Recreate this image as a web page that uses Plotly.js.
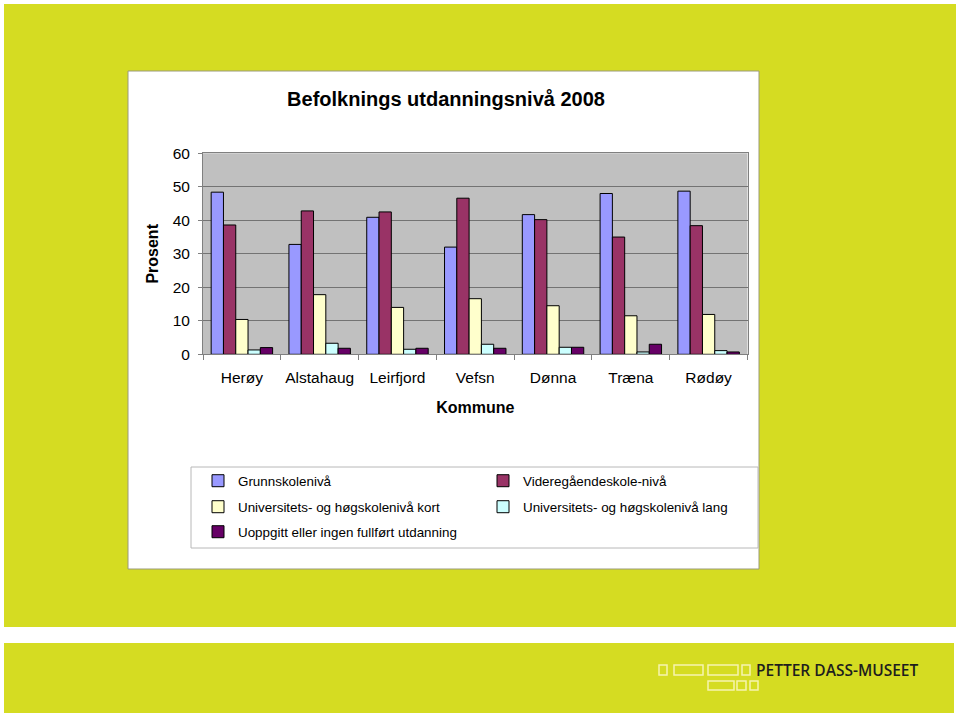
<!DOCTYPE html>
<html>
<head>
<meta charset="utf-8">
<script src="https://cdn.plot.ly/plotly-3.0.1.min.js"></script>
<style>
  html, body { margin: 0; padding: 0; background: #ffffff; }
  #chart { width: 960px; height: 716px; }
</style>
</head>
<body>
<div id="chart"></div>
<script>
// Befolknings utdanningsnivå 2008, per kommune (prosent)
var kommuner = ["Herøy", "Alstahaug", "Leirfjord", "Vefsn", "Dønna", "Træna", "Rødøy"];
var grunnskole   = [48.4, 32.8, 40.9, 32.0, 41.7, 48.0, 48.7];
var videregaende = [38.6, 42.8, 42.5, 46.6, 40.2, 35.0, 38.4];
var uniKort      = [10.4, 17.8, 14.0, 16.6, 14.5, 11.5, 11.9];
var uniLang      = [1.3, 3.3, 1.5, 3.0, 2.1, 0.7, 1.1];
var uoppgitt     = [2.0, 1.8, 1.8, 1.8, 2.1, 3.0, 0.7];

var serieNavn = ["Grunnskolenivå", "Videregåendeskole-nivå", "Universitets- og høgskolenivå kort",
                 "Universitets- og høgskolenivå lang", "Uoppgitt eller ingen fullført utdanning"];
var serieVerdier = [grunnskole, videregaende, uniKort, uniLang, uoppgitt];
var farger = ["#9999ff", "#993366", "#ffffcc", "#ccffff", "#660066"];

// page is 960x716 and margins are 0, so paper coords are page fractions
var W = 960, H = 716;
function px(x) { return x / W; }
function py(y) { return 1 - y / H; }

var font = "Liberation Sans, Arial, sans-serif";
var legendPos = [[198, 481], [483, 481], [198, 507], [483, 507], [198, 532]];

var data = [];
for (var i = 0; i < serieNavn.length; i++) {
  data.push({
    type: "bar",
    name: serieNavn[i],
    x: kommuner,
    y: serieVerdier[i],
    marker: {color: farger[i], line: {color: "#000000", width: 1}},
    legend: i === 0 ? "legend" : "legend" + (i + 1),
    showlegend: true,
    hoverinfo: "x+y+name"
  });
}

var layout = {
  width: W, height: H,
  margin: {l: 0, r: 0, t: 0, b: 0},
  showlegend: true,
  paper_bgcolor: "#ffffff",
  plot_bgcolor: "#c0c0c0",
  font: {family: font, color: "#000000"},
  barmode: "group",
  bargap: 0.21,
  bargroupgap: 0,
  title: {
    text: "Befolknings utdanningsnivå 2008",
    font: {size: 20, weight: "bold", family: font},
    xref: "paper", yref: "paper",
    x: px(446), y: py(99), xanchor: "center", yanchor: "middle"
  },
  xaxis: {
    domain: [px(203), px(747.5)],
    showline: true, linecolor: "#808080", linewidth: 1, mirror: true,
    ticks: "outside", tickson: "boundaries", ticklen: 5, tickcolor: "#808080",
    tickangle: 0,
    ticklabelstandoff: 9,
    tickfont: {size: 15.5},
    showgrid: false,
    title: {text: "Kommune", font: {size: 16, weight: "bold"}, standoff: 16}
  },
  yaxis: {
    domain: [py(354.3), py(153.3)],
    range: [0, 60], dtick: 10,
    showline: true, linecolor: "#808080", linewidth: 1, mirror: true,
    ticks: "outside", ticklen: 4, tickcolor: "#808080",
    ticklabelstandoff: 5,
    tickfont: {size: 15.5},
    showgrid: true, gridcolor: "#737373", gridwidth: 1,
    zeroline: false,
    title: {text: "Prosent", font: {size: 16, weight: "bold"}, standoff: 10}
  },
  shapes: [
    // yellow background bands
    {type: "rect", xref: "paper", yref: "paper", layer: "below",
     x0: px(4), x1: px(956), y0: py(4), y1: py(627), fillcolor: "#d5dc22", line: {width: 0}},
    {type: "rect", xref: "paper", yref: "paper", layer: "below",
     x0: px(4), x1: px(954), y0: py(643), y1: py(713), fillcolor: "#d5dc22", line: {width: 0}},
    // white chart panel
    {type: "rect", xref: "paper", yref: "paper", layer: "below",
     x0: px(128), x1: px(759), y0: py(71), y1: py(569), fillcolor: "#ffffff",
     line: {color: "#9a9a7a", width: 1}},
    // gray plot area
    {type: "rect", xref: "x domain", yref: "y domain", layer: "below",
     x0: 0, x1: 1, y0: 0, y1: 1, fillcolor: "#c0c0c0", line: {width: 0}},
    // legend frame
    {type: "rect", xref: "paper", yref: "paper", layer: "below",
     x0: px(191), x1: px(758), y0: py(467), y1: py(548), fillcolor: "rgba(0,0,0,0)",
     line: {color: "#b8b8b8", width: 1}},
    // logo blocks
    {type: "rect", xref: "paper", yref: "paper", x0: px(659), x1: px(667), y0: py(665), y1: py(675), line: {color: "#f6f3b0", width: 1.5}},
    {type: "rect", xref: "paper", yref: "paper", x0: px(674), x1: px(703), y0: py(665), y1: py(675), line: {color: "#f6f3b0", width: 1.5}},
    {type: "rect", xref: "paper", yref: "paper", x0: px(708), x1: px(738), y0: py(665), y1: py(675), line: {color: "#f6f3b0", width: 1.5}},
    {type: "rect", xref: "paper", yref: "paper", x0: px(742), x1: px(750), y0: py(665), y1: py(675), line: {color: "#f6f3b0", width: 1.5}},
    {type: "rect", xref: "paper", yref: "paper", x0: px(708), x1: px(734), y0: py(681), y1: py(690), line: {color: "#f6f3b0", width: 1.5}},
    {type: "rect", xref: "paper", yref: "paper", x0: px(737), x1: px(746), y0: py(681), y1: py(690), line: {color: "#f6f3b0", width: 1.5}},
    {type: "rect", xref: "paper", yref: "paper", x0: px(750), x1: px(758), y0: py(681), y1: py(690), line: {color: "#f6f3b0", width: 1.5}}
  ],
  annotations: [
    {text: "PETTER DASS-MUSEET", xref: "paper", yref: "paper", x: px(754), y: py(670),
     xanchor: "left", yanchor: "middle", showarrow: false,
     font: {family: "Open Sans, Liberation Sans, sans-serif", size: 15.5, weight: 600, color: "#1e1e1e"}}
  ]
};

for (var j = 0; j < legendPos.length; j++) {
  var key = j === 0 ? "legend" : "legend" + (j + 1);
  layout[key] = {
    visible: true,
    x: px(legendPos[j][0]), y: py(legendPos[j][1]),
    xanchor: "left", yanchor: "middle",
    bgcolor: "rgba(0,0,0,0)", borderwidth: 0,
    font: {size: 13.4, family: font, color: "#000000"}
  };
}

Plotly.newPlot("chart", data, layout, {displayModeBar: false});
</script>
</body>
</html>
